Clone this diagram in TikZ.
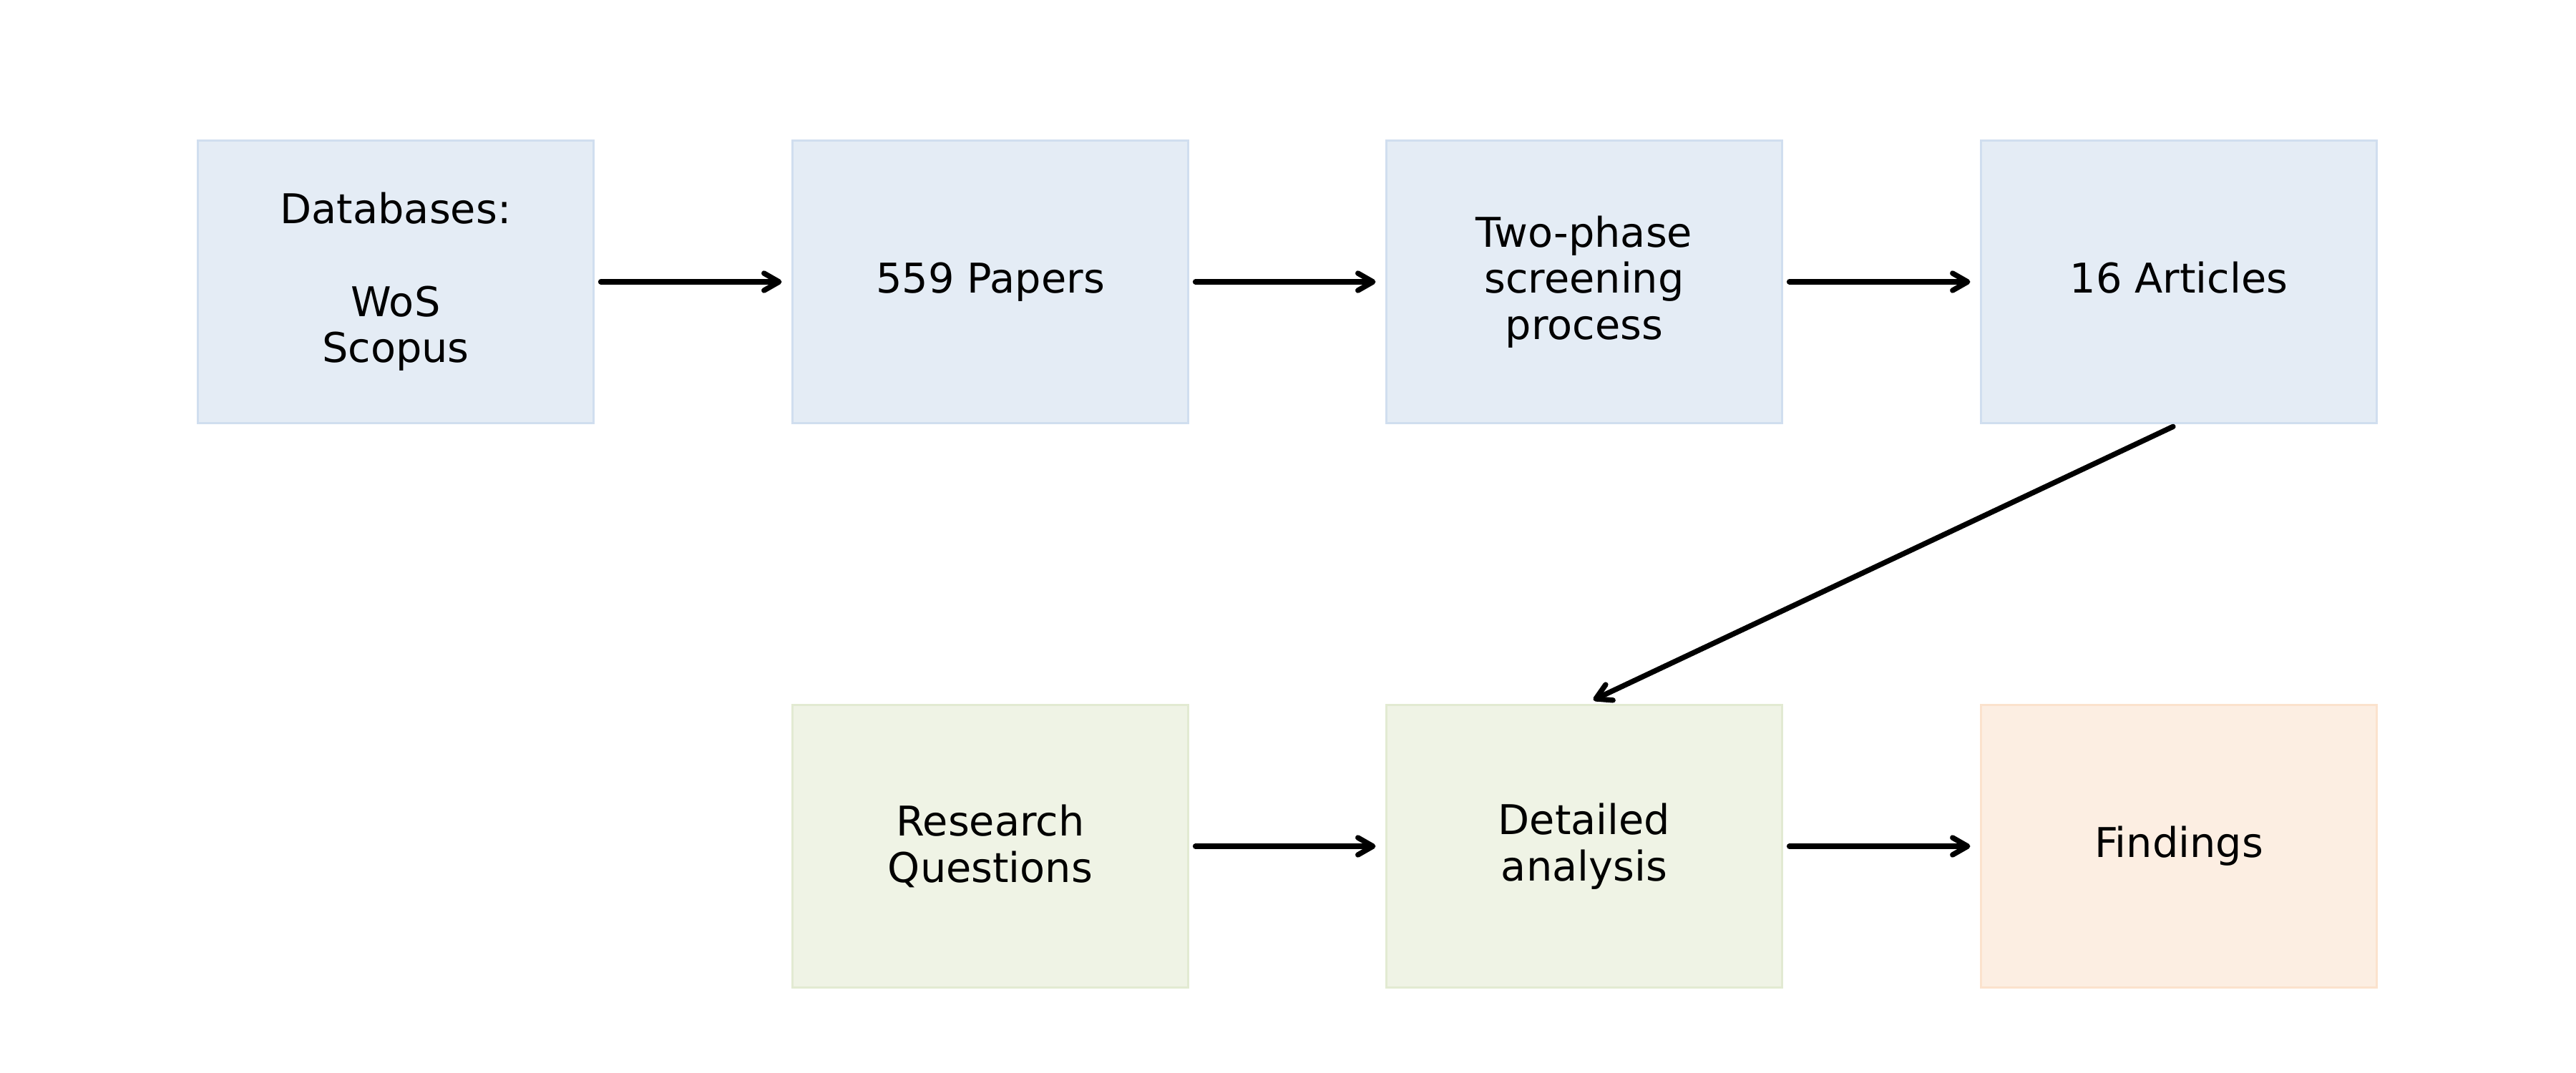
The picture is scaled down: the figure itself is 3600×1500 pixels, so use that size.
\documentclass[tikz,border=0pt]{standalone}
\usepackage{fontspec}
\setmainfont{DejaVu Sans}
\usetikzlibrary{arrows.meta}
\definecolor{bluefill}{HTML}{E4ECF5}
\definecolor{blueline}{HTML}{D0DEEF}
\definecolor{greenfill}{HTML}{EFF3E5}
\definecolor{greenline}{HTML}{E2EAD2}
\definecolor{orangefill}{HTML}{FCEEE2}
\definecolor{orangeline}{HTML}{FBE2CD}
\tikzset{
  box/.style={rectangle, minimum width=5.52cm, minimum height=3.94cm, inner sep=0pt,
    line width=0.8pt, align=center, font=\fontsize{16.3}{18.4}\selectfont},
  bluebox/.style={box, fill=bluefill, draw=blueline},
  greenbox/.style={box, fill=greenfill, draw=greenline},
  orangebox/.style={box, fill=orangefill, draw=orangeline},
  conn/.style={line width=2.1pt, line cap=round, line join=round,
    -{Straight Barb[length=0.21cm, width=0.24cm, line cap=round, line join=round]},
    shorten <=0.09cm, shorten >=0.14cm}
}
\begin{document}
\begin{tikzpicture}[x=0.01cm, y=-0.01cm]
\useasboundingbox (0,0) rectangle (3600,1500);
\node[bluebox] (db) at (553,394) {Databases:\\[18.4pt]WoS\\Scopus};
\node[bluebox] (pap) at (1384,394) {559 Papers};
\node[bluebox] (scr) at (2214,394) {Two-phase\\screening\\process};
\node[bluebox] (art) at (3045,394) {16 Articles\vphantom{p}};
\node[greenbox] (rq) at (1384,1183) {Research\\Questions};
\node[greenbox] (da) at (2214,1183) {Detailed\\analysis};
\node[orangebox] (fi) at (3045,1183) {Findings};
\draw[conn] (db.east) -- (pap.west);
\draw[conn] (pap.east) -- (scr.west);
\draw[conn] (scr.east) -- (art.west);
\draw[conn] (art.south) -- (da.north);
\draw[conn] (rq.east) -- (da.west);
\draw[conn] (da.east) -- (fi.west);
\end{tikzpicture}
\end{document}
